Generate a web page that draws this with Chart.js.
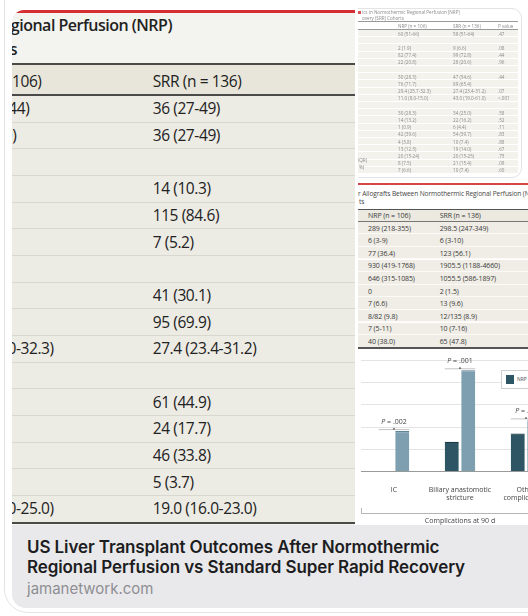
<!DOCTYPE html>
<html>
<head>
<meta charset="utf-8">
<script src="https://cdn.jsdelivr.net/npm/chart.js@4"></script>
<style>
  html, body { margin: 0; padding: 0; }
  body { width: 528px; height: 616px; overflow: hidden; position: relative; background: #fff; font-family: "Open Sans", sans-serif; }
  .abs { position: absolute; white-space: nowrap; }
  #bubble { position: absolute; left: 4px; top: -30px; width: 620px; height: 641px; border: 1px solid #e4e4e4; border-radius: 24px; }
  #card { position: absolute; left: 12px; top: 0; width: 530px; height: 608px; overflow: hidden; border-bottom-left-radius: 14px; background: #fff; }
  #left { position: absolute; left: 0; top: 10px; width: 343px; height: 515px; overflow: hidden; border-top-left-radius: 12px; background: #f3f3ef; }
  #right { position: absolute; left: 346px; top: 0; width: 190px; height: 525px; overflow: hidden; background: #fff; }
  #footer { position: absolute; left: 0; top: 525px; width: 530px; height: 83px; background: #e9e9eb; }
  .big { font-size: 15.5px; font-weight: 500; letter-spacing: -0.4px; color: #222; line-height: 20px; }
  .tiny { font-size: 7px; color: #3a3a3a; line-height: 9px; letter-spacing: -0.1px; }
  .thumb { font-size: 4.6px; color: #8a8a8a; line-height: 6px; filter: blur(0.35px); }
</style>
</head>
<body>
<div id="bubble"></div>
<div id="card">
  <div id="left"></div>
  <div id="right">
    <canvas id="chart" class="abs" style="left:0;top:350px;width:207px;height:177px" width="207" height="177"></canvas>
    <div class="abs" style="left:3px;top:508px;width:200px;height:5px;border-left:1px solid #b5b5b5;border-bottom:1px solid #b5b5b5"></div>
    <div class="abs" style="left:143px;top:370px;width:40px;height:17px;border:1px solid #cfcfcf;background:#fff">
      <div class="abs" style="left:4px;top:4px;width:8px;height:9px;background:#2d5563"></div>
      <div class="abs tiny" style="left:15px;top:4px;font-size:5px;line-height:8px;color:#555">NRP</div>
    </div>
  </div>
  <div id="footer">
    <div class="abs" style="left:15px;top:13px;font-family:Inter,sans-serif;font-weight:600;font-size:17px;line-height:19.5px;color:#1d1d1f;letter-spacing:-0.1px">US Liver Transplant Outcomes After Normothermic<br>Regional Perfusion vs Standard Super Rapid Recovery</div>
    <div class="abs" style="left:15px;top:54px;font-family:Inter,sans-serif;font-size:15px;line-height:20px;color:#8e8e93">jamanetwork.com</div>
  </div>
</div>
<script>
// big table (left image)
const tableTitle = "Table 1. Donor and Recipient Characteristics in Normothermic Regional Perfusion (NRP)";
const tableSubtitle = "and Super Rapid Recovery (SRR) Cohorts";
const headerNrp = "NRP (n = 106)";
const headerSrr = "SRR (n = 136)";
const nrpColumn = ["34 (26.5-44)", "300 (28.0)", "", "", "", "", "", "", "", "28.6 (24.0-32.3)", "", "", "", "", "", "20.1 (16.0-25.0)"];
const srrColumn = ["36 (27-49)", "36 (27-49)", "", "14 (10.3)", "115 (84.6)", "7 (5.2)", "", "41 (30.1)", "95 (69.9)", "27.4 (23.4-31.2)", "", "61 (44.9)", "24 (17.7)", "46 (33.8)", "5 (3.7)", "19.0 (16.0-23.0)"];

// small table (right image)
const outcomeNrp = ["289 (218-355)", "6 (3-9)", "77 (36.4)", "930 (419-1768)", "646 (315-1085)", "0", "7 (6.6)", "8/82 (9.8)", "7 (5-11)", "40 (38.0)"];
const outcomeSrr = ["298.5 (247-349)", "6 (3-10)", "123 (56.1)", "1905.5 (1188-4660)", "1055.5 (586-1897)", "2 (1.5)", "13 (9.6)", "12/135 (8.9)", "10 (7-16)", "65 (47.8)"];

// thumbnail table (top right)
const thumbNrp = ["60 (51-66)", "", "2 (1.9)", "82 (77.4)", "22 (20.8)", "", "30 (28.3)", "76 (71.7)", "29.4 (25.7-32.3)", "11.0 (8.0-15.0)", "", "30 (28.3)", "14 (13.2)", "1 (0.9)", "42 (39.6)", "4 (3.8)", "13 (12.3)", "20 (15-24)", "8 (7.5)", "7 (6.6)"];
const thumbSrr = ["58 (51-64)", "", "9 (6.6)", "99 (72.8)", "28 (20.6)", "", "47 (34.6)", "89 (65.4)", "27.4 (23.4-31.2)", "43.0 (19.0-61.0)", "", "34 (25.0)", "22 (16.2)", "6 (4.4)", "54 (39.7)", "10 (7.4)", "19 (14.0)", "20 (15-25)", "21 (15.4)", "10 (7.4)"];
const thumbP = [".47", "", ".08", ".44", ".96", "", ".44", "", ".07", "<.001", "", ".58", ".52", ".11", ".83", ".88", ".67", ".75", ".09", ".60"];

// chart data
const categories = [["IC"], ["Biliary anastomotic", "stricture"], ["Other", "complications"]];
const nrpValues = [0, 1.34, 1.71];
const srrValues = [1.82, 4.54, 2.3];
const pLabels = [".002", ".001", ".03"];
const yTicks = [0, 1, 2, 3, 4, 5];

function add(parent, cls, style, text) {
  const d = document.createElement("div");
  d.className = "abs " + cls;
  d.style.cssText = style;
  if (text !== undefined) d.textContent = text;
  parent.appendChild(d);
  return d;
}

// left image
const left = document.getElementById("left");
add(left, "", "left:0;top:0;width:343px;height:3px;background:#d62e33");
add(left, "", "left:-700px;top:5px;width:860px;text-align:right;font-weight:600;font-size:16px;letter-spacing:-0.5px;line-height:20px;color:#222", tableTitle);
add(left, "", "left:-600px;top:29px;width:605px;text-align:right;font-weight:600;font-size:16px;letter-spacing:-0.5px;line-height:20px;color:#222", tableSubtitle);
add(left, "", "left:0;top:53px;width:343px;height:33px;background:#e8e6da;border-top:2px solid #4a4a48;border-bottom:2px solid #4a4a48;box-sizing:border-box");
add(left, "big", "left:-62px;top:61px", headerNrp);
add(left, "big", "left:140.7px;top:61px", headerSrr);
const rowH = 26.67;
srrColumn.forEach((v, i) => {
  const top = 86 + rowH * i;
  add(left, "", `left:0;top:${top}px;width:343px;height:${rowH}px;background:#ecebe4;border-bottom:1.5px solid #d9d8cf;box-sizing:border-box`);
  add(left, "big", `left:-62px;top:${top + 2.3}px`, nrpColumn[i]);
  add(left, "big", `left:140.7px;top:${top + 2.3}px`, v);
});
add(left, "", `left:0;top:${86 + rowH * 16 - 1}px;width:343px;height:2px;background:#4a4a48`);

// right image: thumbnail
const right = document.getElementById("right");
add(right, "", "left:-30px;top:8px;width:192px;height:168px;border:1px solid #e3e3e3;border-radius:10px");
add(right, "", "left:0;top:11px;width:3px;height:3px;background:#d85050");
add(right, "thumb", "left:4px;top:9px", "ics in Normothermic Regional Perfusion (NRP)");
add(right, "thumb", "left:4px;top:15px", "overy (SRR) Cohorts");
add(right, "", "left:0;top:21px;width:160px;height:1px;background:#999");
add(right, "thumb", "left:40px;top:23px", "NRP (n = 106)");
add(right, "thumb", "left:95px;top:23px", "SRR (n = 136)");
add(right, "thumb", "left:140px;top:23px", "P value");
add(right, "", "left:0;top:29px;width:160px;height:1px;background:#999");
thumbNrp.forEach((v, i) => {
  const top = 30 + 7.2 * i;
  add(right, "", `left:0;top:${top}px;width:160px;height:7.2px;background:#f3f2ec;border-bottom:1px solid #fff;box-sizing:border-box`);
  add(right, "thumb", `left:40px;top:${top + 0.6}px`, v);
  add(right, "thumb", `left:95px;top:${top + 0.6}px`, thumbSrr[i]);
  add(right, "thumb", `left:140px;top:${top + 0.6}px`, thumbP[i]);
});
add(right, "thumb", "left:0;top:157px", "IQR)");
add(right, "thumb", "left:1px;top:164px", "%)");

// right image: outcomes table
add(right, "", "left:0;top:183px;width:190px;height:2px;background:#d64545");
add(right, "", "left:-120px;top:190px;width:120px;text-align:right;font-size:6.6px;line-height:7px;color:#444", "Table 3. Outcomes fo");
add(right, "tiny", "left:0;top:190px;font-size:6.6px;line-height:7px;color:#444", "r Allografts Between Normothermic Regional Perfusion (NRP) and SRR");
add(right, "tiny", "left:1px;top:197.5px;font-size:6.6px;line-height:7px;color:#444", "ts");
add(right, "", "left:0;top:208.5px;width:190px;height:13.5px;background:#ebe9e0;border-top:1.5px solid #555;border-bottom:1px solid #777;box-sizing:border-box");
add(right, "tiny", "left:10px;top:210.5px", headerNrp);
add(right, "tiny", "left:81.7px;top:210.5px", headerSrr);
outcomeNrp.forEach((v, i) => {
  const top = 221.7 + 12.6 * i;
  add(right, "", `left:0;top:${top}px;width:190px;height:12.6px;background:#efede6;border-bottom:1px solid #fbfaf6;box-sizing:border-box`);
  add(right, "tiny", `left:10px;top:${top + 1.8}px`, v);
  add(right, "tiny", `left:81.7px;top:${top + 1.8}px`, outcomeSrr[i]);
});
add(right, "", "left:0;top:346.5px;width:190px;height:2px;background:#555");

// p-value brackets above each group
const pValuePlugin = {
  id: "pValues",
  afterDatasetsDraw(chart) {
    const ctx = chart.ctx;
    const a = chart.getDatasetMeta(0).data;
    const b = chart.getDatasetMeta(1).data;
    ctx.save();
    pLabels.forEach((p, i) => {
      const x0 = a[i].x - a[i].width / 2;
      const x1 = b[i].x + b[i].width / 2;
      const y = Math.min(a[i].y, b[i].y) - 2;
      const cx = (x0 + x1) / 2;
      ctx.strokeStyle = "#c4c4c4";
      ctx.lineWidth = 1;
      ctx.beginPath();
      ctx.moveTo(x0, y + 0.5);
      ctx.lineTo(x1, y + 0.5);
      ctx.stroke();
      ctx.fillStyle = "#555";
      ctx.beginPath();
      ctx.moveTo(cx - 1.3, y + 0.5);
      ctx.lineTo(cx + 1.3, y + 0.5);
      ctx.lineTo(cx, y - 1.5);
      ctx.fill();
      ctx.fillStyle = "#444";
      ctx.textBaseline = "middle";
      ctx.font = "italic 7px 'Open Sans'";
      const pw = ctx.measureText("P").width;
      ctx.font = "7px 'Open Sans'";
      const rest = " = " + p;
      const rw = ctx.measureText(rest).width;
      const sx = cx - (pw + rw) / 2;
      ctx.font = "italic 7px 'Open Sans'";
      ctx.textAlign = "left";
      ctx.fillText("P", sx, y - 7);
      ctx.font = "7px 'Open Sans'";
      ctx.fillText(rest, sx + pw, y - 7);
    });
    ctx.restore();
  }
};

new Chart(document.getElementById("chart"), {
  type: "bar",
  data: {
    labels: categories,
    datasets: [
      { label: "NRP", data: nrpValues, backgroundColor: "#2d5563", borderColor: "#1b3943", borderWidth: { top: 1.2, left: 0, right: 0, bottom: 0 }, borderSkipped: "bottom" },
      { label: "SRR", data: srrValues, backgroundColor: "#7d9fb0", borderColor: "#5f8496", borderWidth: { top: 1.2, left: 0, right: 0, bottom: 0 }, borderSkipped: "bottom" }
    ]
  },
  options: {
    responsive: false,
    animation: false,
    categoryPercentage: 0.5,
    barPercentage: 0.85,
    layout: { padding: { left: 3, top: 10, right: 6, bottom: 2 } },
    plugins: { legend: { display: false }, tooltip: { enabled: false } },
    scales: {
      x: {
        grid: { display: false },
        border: { color: "#9a9a9a" },
        ticks: { color: "#444", font: { family: "Open Sans", size: 7 }, padding: 6, maxRotation: 0, autoSkip: false },
        title: { display: true, text: "Complications at 90 d", color: "#444", font: { family: "Open Sans", size: 7 }, padding: { top: 8, bottom: 0 } }
      },
      y: {
        min: 0,
        max: 5,
        afterBuildTicks: (axis) => { axis.ticks = yTicks.map(v => ({ value: v })); },
        grid: { color: "#e4e4e4", drawTicks: false },
        border: { display: false },
        ticks: { display: false }
      }
    }
  },
  plugins: [pValuePlugin]
});
</script>
</body>
</html>
